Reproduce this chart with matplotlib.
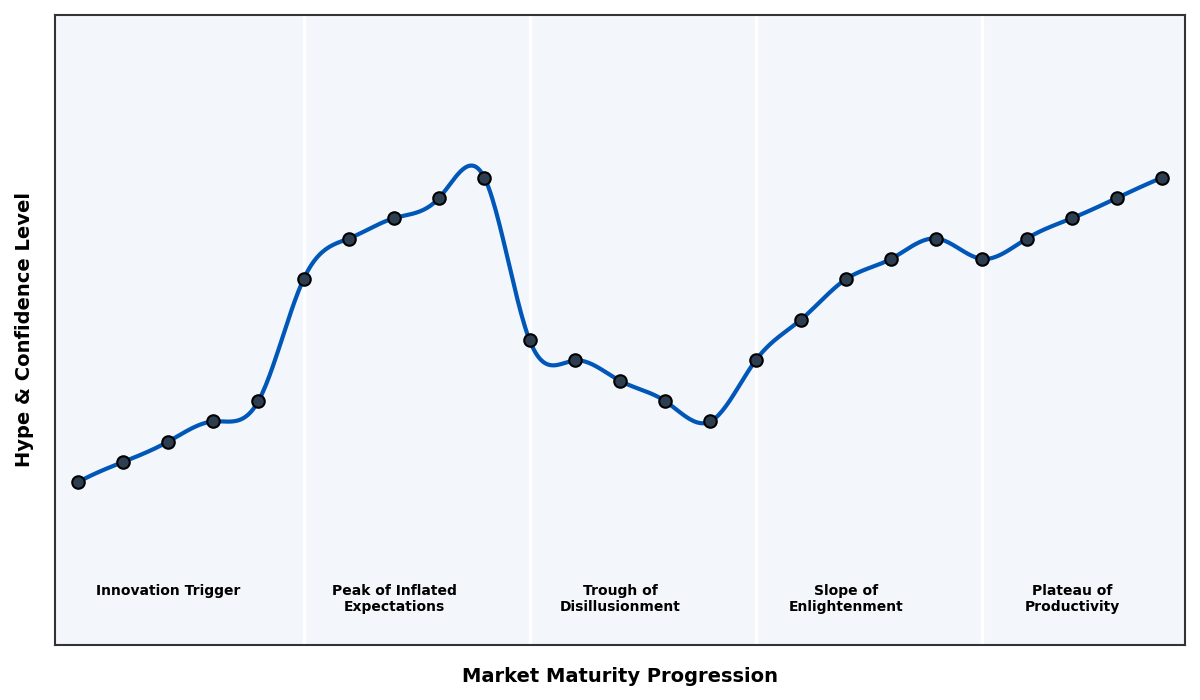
import numpy as np
import matplotlib
matplotlib.use("Agg")
import matplotlib.pyplot as plt

# hype cycle data points
stage_idx = np.arange(25)
hype = [10, 15, 20, 25, 30, 60, 70, 75, 80, 85, 45, 40, 35, 30, 25,
        40, 50, 60, 65, 70, 65, 70, 75, 80, 85]
phase_names = ["Innovation Trigger", "Peak of Inflated\nExpectations",
               "Trough of\nDisillusionment", "Slope of\nEnlightenment",
               "Plateau of\nProductivity"]
phase_centers = [2, 7, 12, 17, 22]
phase_bounds = [5, 10, 15, 20]


def notaknot_spline(x, y, xs):
    # cubic spline, not-a-knot ends, uniform spacing assumed
    y = np.asarray(y, float)
    n = len(x) - 1
    A = np.zeros((n + 1, n + 1))
    b = np.zeros(n + 1)
    A[0, 0:3] = [1, -2, 1]
    A[n, n - 2:n + 1] = [1, -2, 1]
    for i in range(1, n):
        A[i, i - 1:i + 2] = [1, 4, 1]
        b[i] = 6 * (y[i + 1] - 2 * y[i] + y[i - 1])
    M = np.linalg.solve(A, b)
    seg = np.clip(np.floor(xs).astype(int), 0, n - 1)
    t = xs - seg
    return (M[seg] * (1 - t) ** 3 / 6 + M[seg + 1] * t ** 3 / 6
            + (y[seg] - M[seg] / 6) * (1 - t) + (y[seg + 1] - M[seg + 1] / 6) * t)


xs = np.linspace(0, 24, 600)
ys = notaknot_spline(stage_idx, hype, xs)

fig = plt.figure(figsize=(12, 7), dpi=100)
ax = fig.add_axes([0.0458, 0.0786, 0.9417, 0.9])
ax.set_facecolor("#f3f6fa")

for b in phase_bounds:
    ax.axvline(b, color="white", lw=2.5, zorder=1)

ax.plot(xs, ys, color="#0057b7", lw=3, zorder=2)
ax.plot(stage_idx, hype, "o", color="#2c3e50", markeredgecolor="black",
        markersize=9, markeredgewidth=1.5, zorder=3)

for c, name in zip(phase_centers, phase_names):
    ax.text(c, -15, name, ha="center", va="top", fontsize=10,
            fontweight="bold", linespacing=1.15)

ax.set_xlim(-0.5, 24.5)
ax.set_ylim(-30, 125)
ax.set_xticks([])
ax.set_yticks([])
for s in ax.spines.values():
    s.set_color("#333333")
    s.set_linewidth(1.5)

ax.set_xlabel("Market Maturity Progression", fontsize=14, fontweight="bold", labelpad=15.5)
ax.set_ylabel("Hype & Confidence Level", fontsize=14, fontweight="bold", labelpad=15)

fig.savefig("out.png", dpi=100)
